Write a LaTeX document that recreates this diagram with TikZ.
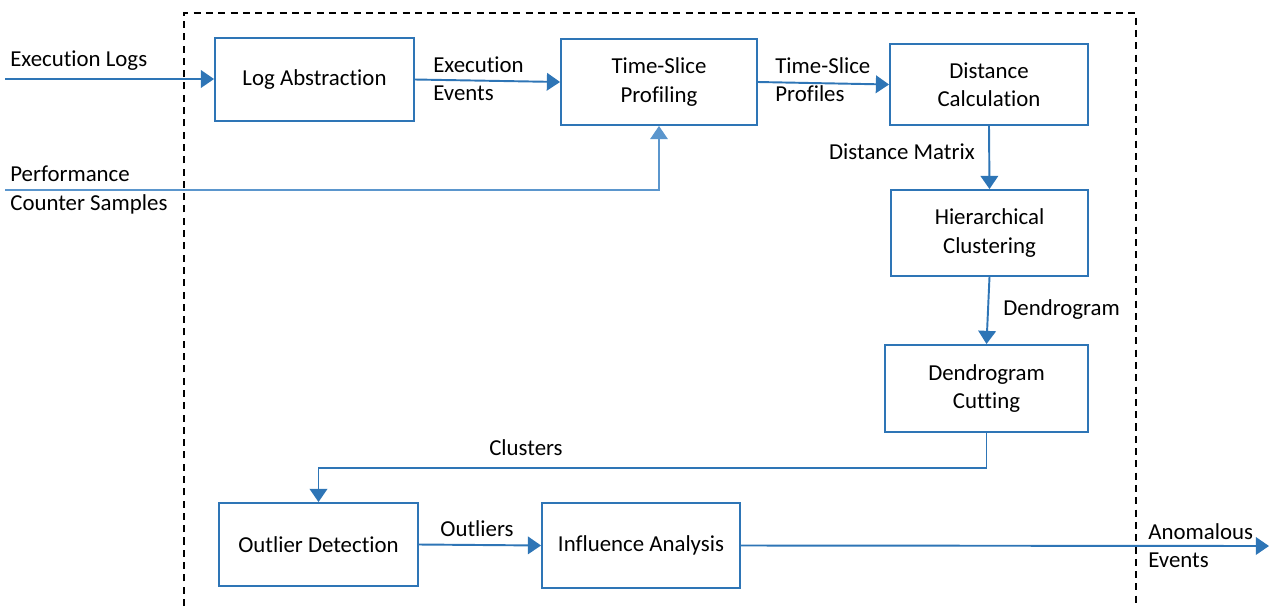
\documentclass[tikz,border=0pt]{standalone}
\usepackage{fontspec}
\setmainfont{Carlito}[Ligatures=NoCommon]
\usetikzlibrary{arrows.meta}
\definecolor{flowblue}{RGB}{46,117,182}
\definecolor{lightblue}{RGB}{91,150,205}
\tikzset{
  block/.style={draw=flowblue, line width=1.1pt, align=center, inner sep=2pt},
  flow/.style={draw=flowblue, line width=1.1pt, -{Triangle[length=7.5pt,width=10pt]}},
  lbl/.style={inner sep=0pt, align=left},
}
\begin{document}
\begin{tikzpicture}[x=0.02cm, y=-0.02cm, font=\fontsize{13}{16}\selectfont]
\useasboundingbox (0,0) rectangle (1269,606);
\draw [dash pattern=on 4pt off 3pt, line width=0.8pt] (184,606) -- (184,13) -- (1136,13) -- (1136,606);

\node [block, minimum width=3.98cm, minimum height=1.66cm] (logabs) at (314.5,79.5) {Log Abstraction};
\node [block, minimum width=3.92cm, minimum height=1.72cm] (profiling) at (659,82) {Time-Slice\\Profiling};
\node [block, minimum width=3.96cm, minimum height=1.62cm] (distcalc) at (989,84.5) {Distance\\Calculation};
\node [block, minimum width=3.94cm, minimum height=1.72cm] (hiercl) at (989.5,233) {Hierarchical\\Clustering};
\node [block, minimum width=4.06cm, minimum height=1.74cm] (dendcut) at (986.5,388.5) {Dendrogram\\Cutting};
\node [block, minimum width=3.98cm, minimum height=1.66cm] (outlier) at (318.5,544.5) {Outlier Detection};
\node [block, minimum width=3.96cm, minimum height=1.70cm] (influence) at (641,545.5) {Influence Analysis};

\coordinate (logsin) at (5,79);
\coordinate (pcin) at (5,190);
\coordinate (pcturn) at (profiling.south |- pcin);
\coordinate (clturn) at (dendcut.south |- 0,468);
\coordinate (anomout) at (1269,546);

\draw [flow] (logsin) -- (logabs.west |- logsin);
\draw [flow] (logabs.east) -- (profiling.west);
\draw [flow] (profiling.east) -- (distcalc.west);
\draw [flow, draw=lightblue, line width=0.8pt] (pcin) -- (pcturn) -- (profiling.south);
\draw [flow] (distcalc.south) -- (hiercl.north);
\draw [flow] (hiercl.south) -- (dendcut.north);
\draw [flow] (dendcut.south) -- (clturn) -- (clturn -| outlier.north) -- (outlier.north);
\draw [flow] (outlier.east) -- (influence.west);
\draw [flow] (influence.east) -- (anomout);

\node [lbl, anchor=west] (logslbl) at (10,61) {Execution Logs};
\node [lbl, anchor=west] (evlbl) at (433,79) {Execution\\Events};
\node [lbl, anchor=west] (proflbl) at (775,80) {Time-Slice\\Profiles};
\node [lbl, anchor=west] (pclbl) at (10,190) {Performance\\Counter Samples};
\node [lbl, anchor=east] (dmlbl) at (975,152) {Distance Matrix};
\node [lbl, anchor=west] (dglbl) at (1003,310) {Dendrogram};
\node [lbl] (cllbl) at (526,448) {Clusters};
\node [lbl] (outlbl) at (477,529) {Outliers};
\node [lbl, anchor=west] (anomlbl) at (1148,546) {Anomalous\\Events};
\end{tikzpicture}
\end{document}
